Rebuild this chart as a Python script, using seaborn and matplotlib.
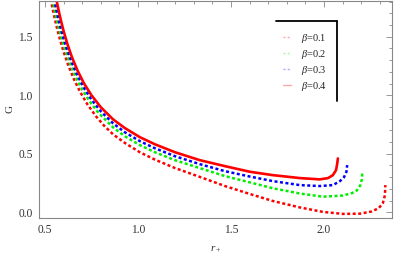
import matplotlib
matplotlib.use("Agg")
import numpy as np
import pandas as pd
import seaborn as sns
import matplotlib.pyplot as plt
from matplotlib.lines import Line2D
from matplotlib.ticker import MultipleLocator

labels = [r"$\beta$=0.1", r"$\beta$=0.2", r"$\beta$=0.3", r"$\beta$=0.4"]

r_b01 = [0.529, 0.540, 0.552, 0.566, 0.581, 0.600, 0.624, 0.654, 0.688, 0.727, 0.775, 0.818, 0.866,
         0.930, 1.011, 1.091, 1.199, 1.333, 1.468, 1.602, 1.726, 1.871, 1.995, 2.102, 2.194, 2.258,
         2.296, 2.317, 2.328, 2.330]
G_b01 = [1.840, 1.749, 1.660, 1.565, 1.475, 1.373, 1.262, 1.143, 1.032, 0.925, 0.819, 0.740, 0.666,
         0.592, 0.512, 0.450, 0.378, 0.302, 0.224, 0.156, 0.096, 0.041, 0.003, -0.014, -0.012, 0.007,
         0.037, 0.079, 0.147, 0.232]

r_b02 = [0.538, 0.550, 0.562, 0.577, 0.592, 0.612, 0.637, 0.667, 0.700, 0.740, 0.790, 0.866, 0.930,
         1.011, 1.091, 1.199, 1.333, 1.468, 1.602, 1.726, 1.871, 1.995, 2.102, 2.151, 2.177, 2.196,
         2.204, 2.206]
G_b02 = [1.840, 1.743, 1.656, 1.559, 1.472, 1.370, 1.261, 1.150, 1.049, 0.948, 0.845, 0.726, 0.649,
         0.573, 0.513, 0.445, 0.377, 0.309, 0.255, 0.205, 0.160, 0.133, 0.143, 0.164, 0.186, 0.232,
         0.283, 0.339]

r_b03 = [0.547, 0.558, 0.570, 0.585, 0.600, 0.620, 0.645, 0.675, 0.710, 0.750, 0.800, 0.866, 0.930,
         1.011, 1.091, 1.199, 1.333, 1.468, 1.602, 1.726, 1.871, 1.978, 2.048, 2.086, 2.108, 2.121,
         2.125]
G_b03 = [1.840, 1.753, 1.667, 1.570, 1.484, 1.384, 1.276, 1.167, 1.062, 0.963, 0.863, 0.760, 0.683,
         0.607, 0.547, 0.479, 0.411, 0.351, 0.305, 0.266, 0.232, 0.224, 0.232, 0.266, 0.300, 0.346,
         0.403]

r_b04 = [0.558, 0.570, 0.585, 0.600, 0.620, 0.645, 0.675, 0.710, 0.750, 0.800, 0.866, 0.930, 1.011,
         1.091, 1.199, 1.333, 1.468, 1.602, 1.726, 1.871, 1.978, 2.022, 2.048, 2.065, 2.071, 2.075]
G_b04 = [1.846, 1.750, 1.644, 1.550, 1.441, 1.326, 1.211, 1.101, 1.000, 0.898, 0.794, 0.719, 0.641,
         0.581, 0.513, 0.445, 0.394, 0.346, 0.317, 0.292, 0.281, 0.292, 0.317, 0.360, 0.411, 0.460]

sns.set_theme(style="white")
plt.rcParams["font.family"] = ["Liberation Serif", "DejaVu Serif"]
plt.rcParams["mathtext.fontset"] = "custom"
plt.rcParams["mathtext.rm"] = "Liberation Serif"
plt.rcParams["mathtext.it"] = "Liberation Serif:italic"

fig = plt.figure(figsize=(4.14, 2.59), dpi=100)
ax = fig.add_axes([0.0942, 0.1583, 0.8527, 0.8387])

series = [
    (r_b01, G_b01, "#ff0000", (1.2, 1.0), 1.8, labels[0]),
    (r_b02, G_b02, "#00ee00", (1.2, 1.0), 1.8, labels[1]),
    (r_b03, G_b03, "#0000ff", (1.2, 1.0), 1.8, labels[2]),
    (r_b04, G_b04, "#ff0000", None, 1.9, labels[3]),
]

for r, G, c, dash, lw, lab in series:
    df = pd.DataFrame({"r": r, "G": G})
    sns.lineplot(data=df, x="r", y="G", sort=False, estimator=None, color=c, lw=lw, ax=ax)
    ln = ax.lines[-1]
    ln.set_solid_joinstyle("round")
    if dash is not None:
        ln.set_dashes(dash)
        ln.set_dash_capstyle("butt")

ax.set_xlim(0.468, 2.366)
ax.set_ylim(-0.049, 1.807)
ax.xaxis.set_major_locator(MultipleLocator(0.5))
ax.xaxis.set_minor_locator(MultipleLocator(0.1))
ax.yaxis.set_major_locator(MultipleLocator(0.5))
ax.yaxis.set_minor_locator(MultipleLocator(0.1))
ax.tick_params(which="both", direction="in", top=True, right=True, color="#888888", width=0.6)
ax.tick_params(which="major", length=4, labelsize=8.3, labelcolor="#333333", pad=4.5)
ax.tick_params(which="minor", length=2)
for s in ax.spines.values():
    s.set_color("#888888")
    s.set_linewidth(0.8)

ax.set_xlabel(r"$r_+$", fontsize=8, color="#333333", labelpad=6)
ax.set_ylabel("G", fontsize=8, color="#333333", labelpad=3)

handles = []
for r, G, c, dash, lw, lab in series:
    h = Line2D([], [], color=c, lw=1.0, alpha=0.35)
    if dash is not None:
        h.set_dashes((1.5, 1.5))
    handles.append(h)
ax.legend(handles, labels, loc="upper left", bbox_to_anchor=(0.691, 0.858), frameon=False,
          fontsize=7.5, handlelength=0.8, handletextpad=0.95, labelspacing=0.3,
          borderpad=0, borderaxespad=0, labelcolor="#222222")
ax.add_line(Line2D([0.671, 0.844], [0.905, 0.905], transform=ax.transAxes, color="black", lw=1.3))
ax.add_line(Line2D([0.844, 0.844], [0.905, 0.538], transform=ax.transAxes, color="black", lw=1.3))

fig.savefig("out.png", dpi=100)
